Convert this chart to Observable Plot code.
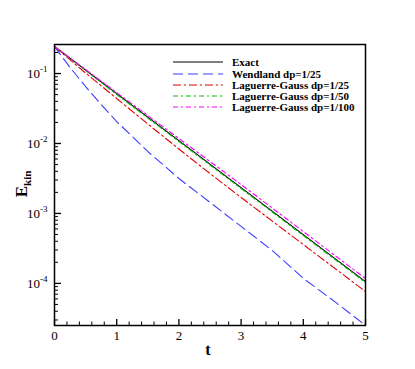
<!DOCTYPE html>
<html><head><meta charset="utf-8">
<script src="https://cdn.jsdelivr.net/npm/d3@7"></script>
<script src="https://cdn.jsdelivr.net/npm/@observablehq/plot@0.6"></script>
<style>body{margin:0;background:#fff}</style>
</head><body><div id="chart"></div>
<script>
// ---- data ----
const seriesNames = ["Exact", "Wendland dp=1/25", "Laguerre-Gauss dp=1/25", "Laguerre-Gauss dp=1/50", "Laguerre-Gauss dp=1/100"];
const tExact = [0, 1, 2, 3, 4, 5];
const eExact = [0.243, 0.0517, 0.0110, 0.00234, 4.98e-4, 1.06e-4];
const tWend = [0, 0.25, 0.5, 0.75, 1, 1.5, 2, 2.5, 3, 3.5, 4, 4.5, 5];
const eWend = [0.243, 0.122, 0.0652, 0.0361, 0.0206, 0.00769, 0.00316, 0.00144, 6.52e-4, 2.96e-4, 1.18e-4, 5.53e-5, 2.51e-5];
const tLG25 = [0, 0.5, 1, 1.5, 2, 2.5, 3, 4, 5];
const eLG25 = [0.243, 0.1016, 0.0439, 0.0190, 0.00833, 0.00372, 0.00169, 3.59e-4, 7.64e-5];
const tLG50 = [0, 1, 2, 3, 4, 5];
const eLG50 = [0.243, 0.0501, 0.01067, 0.00227, 4.83e-4, 1.03e-4];
const tLG100 = [0, 1, 2, 3, 4, 5];
const eLG100 = [0.243, 0.0535, 0.01178, 0.00259, 5.51e-4, 1.17e-4];
const xMajor = [0, 1, 2, 3, 4, 5];
const xMinor = [0.2,0.4,0.6,0.8,1.2,1.4,1.6,1.8,2.2,2.4,2.6,2.8,3.2,3.4,3.6,3.8,4.2,4.4,4.6,4.8];
const yMajor = [1e-4, 1e-3, 1e-2, 1e-1];
const yMinorMult = [2,3,4,5,6,7,8,9];

// ---- layout ----
const W = 415, H = 369, mL = 54, mR = 50, mT = 44, mB = 44;
const pw = W - mL - mR, ph = H - mT - mB;
const yDomain = [2.5e-5, 0.26];
const yMinor = [];
for (const p of [1e-5, 1e-4, 1e-3, 1e-2, 1e-1]) for (const m of yMinorMult) { const v = m * p; if (v > yDomain[0] && v < yDomain[1]) yMinor.push(v); }

const styles = [
  {stroke: "#000000", dash: null},
  {stroke: "#3c3cff", dash: "10,5"},
  {stroke: "#e60000", dash: "8,3,2,3"},
  {stroke: "#00c000", dash: "5,3,2,3"},
  {stroke: "#ff00ff", dash: "5,3,2,3"}
];
const tSets = [tExact, tWend, tLG25, tLG50, tLG100];
const eSets = [eExact, eWend, eLG25, eLG50, eLG100];
const tables = tSets.map((ts, i) => ts.map((t, j) => ({t, E: eSets[i][j], series: seriesNames[i]})));

const lineMarks = tables.map((tab, i) => Plot.line(tab, {
  x: "t", y: "E", stroke: styles[i].stroke, strokeWidth: 1.1,
  strokeDasharray: styles[i].dash ?? undefined
}));

const plot = Plot.plot({
  width: W, height: H, marginLeft: mL, marginRight: mR, marginTop: mT, marginBottom: mB,
  style: {fontFamily: "'Liberation Serif', 'Times New Roman', serif", fontSize: "13px", color: "#000", background: "#fff"},
  x: {domain: [0, 5]},
  y: {type: "log", domain: yDomain},
  marks: [
    Plot.ruleX(xMajor, {x: d => d, insetTop: ph - 6, stroke: "#000", strokeWidth: 1.3}),
    Plot.ruleX(xMinor, {x: d => d, insetTop: ph - 3.5, stroke: "#000", strokeWidth: 1}),
    Plot.ruleY(yMajor, {y: d => d, insetRight: pw - 7, stroke: "#000", strokeWidth: 1.3}),
    Plot.ruleY(yMinor, {y: d => d, insetRight: pw - 4, stroke: "#000", strokeWidth: 1}),
    ...lineMarks,
    Plot.frame({stroke: "#000", strokeWidth: 1.5}),
    Plot.axisX({ticks: xMajor, tickSize: 0, tickPadding: 5, label: null, tickFormat: d => String(d)}),
    Plot.axisY({ticks: yMajor, tickSize: 0, tickPadding: 7, label: null, tickFormat: d => String(Math.round(Math.log10(d)))})
  ]
});
document.getElementById("chart").appendChild(plot);

const svg = d3.select(plot);
// superscript exponents on y tick labels
svg.selectAll('g[aria-label="y-axis tick label"] text').each(function() {
  const exp = this.textContent;
  const t = d3.select(this);
  t.text(null);
  t.append("tspan").text("10");
  t.append("tspan").attr("dy", "-6").attr("font-size", "9px").text(exp);
});

// axis titles
svg.append("text").attr("x", 208).attr("y", 355).attr("text-anchor", "middle")
  .attr("font-family", "'Liberation Serif', serif").attr("font-weight", "bold").attr("font-size", "16px").text("t");
const yl = svg.append("text").attr("transform", "translate(27,184) rotate(-90)").attr("text-anchor", "middle")
  .attr("font-family", "'Liberation Serif', serif").attr("font-weight", "bold").attr("font-size", "17px");
yl.append("tspan").text("E");
yl.append("tspan").attr("dy", "4").attr("font-size", "11px").text("kin");

// legend
const legY = [62, 74, 85, 96, 107];
const leg = svg.append("g").attr("text-anchor", "start");
seriesNames.forEach((name, i) => {
  leg.append("line").attr("x1", 173).attr("x2", 223).attr("y1", legY[i]).attr("y2", legY[i])
    .attr("stroke", styles[i].stroke).attr("stroke-width", 1.1)
    .attr("stroke-dasharray", styles[i].dash);
  leg.append("text").attr("x", 232).attr("y", legY[i] + 4).attr("text-anchor", "start")
    .attr("font-family", "'Liberation Serif', serif").attr("font-weight", "bold").attr("font-size", "11px")
    .text(name);
});
</script>
</body></html>
